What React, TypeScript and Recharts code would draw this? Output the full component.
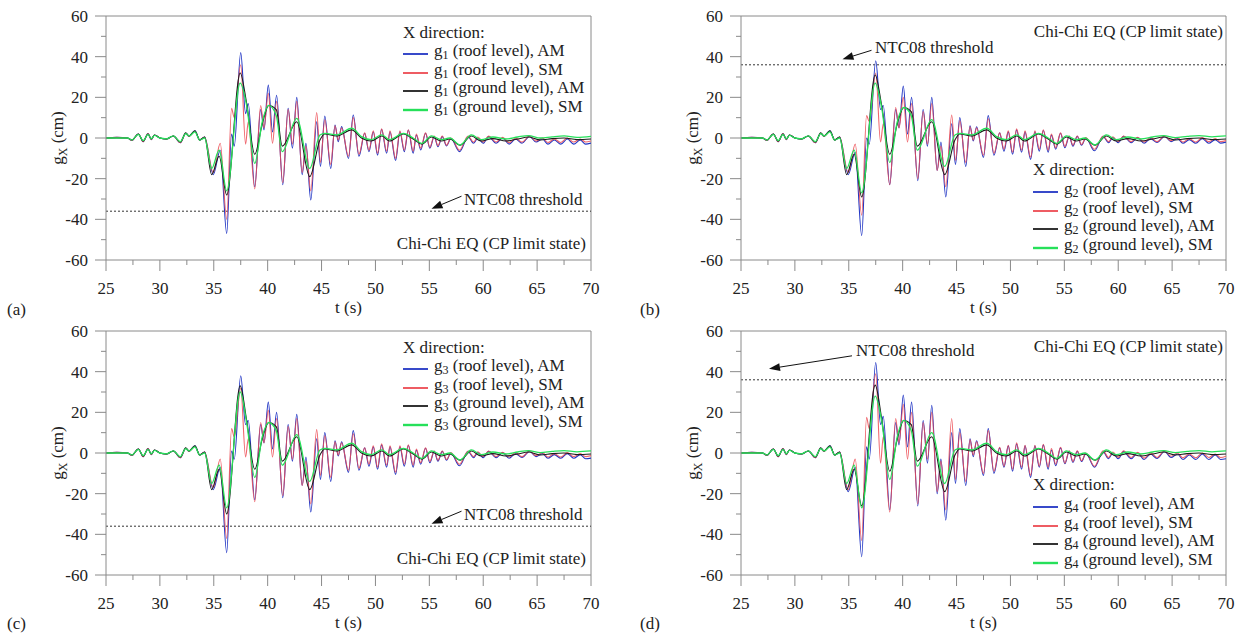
import React from "react";
import { LineChart, Line, XAxis, YAxis, ReferenceLine } from "recharts";

// time instants (s) of the picked extrema, roof-level and ground-level records
const T_ROOF = [
  25, 26, 27, 27.4, 28, 28.45, 28.9, 29.2, 29.5, 30,
  30.6, 31.25, 31.9, 32.4, 32.7, 33.25, 33.7, 34.15, 34.95, 35.6,
  36.2, 36.65, 36.9, 37.5, 37.95, 38.2, 38.8, 39.35, 39.66, 40.06,
  40.45, 40.83, 41.4, 41.9, 42.3, 42.7, 43.2, 43.55, 44.0, 44.55,
  44.9, 45.3, 45.85, 46.25, 46.55, 46.86, 47.5, 47.94, 48.47, 49.0,
  49.4, 49.8, 50.2, 50.57, 51.04, 51.35, 51.87, 52.27, 52.68, 53.05,
  53.5, 53.8, 54.2, 54.65, 55.05, 55.45, 55.8, 56.2, 56.6, 57.0,
  57.8, 58.6, 59.1, 59.5, 60.0, 60.5, 61.2, 61.8, 62.4, 63.0,
  63.6, 64.3, 64.9, 65.5, 66.0, 66.6, 67.2, 67.8, 68.4, 69.0,
  69.5, 70,
];

const T_GROUND = [
  25, 27, 27.4, 28, 28.45, 28.9, 29.2, 29.5, 30, 30.6,
  31.25, 31.9, 32.4, 32.7, 33.25, 33.7, 34.15, 34.8, 35.5, 36.2,
  37.45, 38.05, 38.8, 39.5, 40.1, 40.8, 41.35, 42.7, 43.9, 44.85,
  45.3, 46.4, 47.8, 48.7, 49.6, 50.6, 51.3, 52.6, 53.5, 54.3,
  55.2, 56.1, 56.9, 57.85, 58.9, 59.8, 60.9, 62.1, 63.2, 64.2,
  65.3, 66.4, 67.5, 68.7, 70,
];

// panel (a) g1
const ROOF_AM_1 = [
  0, 0.3, 0, -1.2, 2.0, -1.8, 2.2, -0.8, 1.5, 0,
  -0.5, 1.0, -2.3, 2.3, 0.8, 3.6, -1.0, 0.5, -18, -6,
  -47, 2, -4, 42, 12, 17, -24, 14, 4, 26,
  3, 21, -23, 14.6, -5, 20, -18, -2.6, -30.5, 8,
  -14, 10.8, -15, 6.4, -1.8, 5.6, -10, 11.3, -9, 2.3,
  -6.7, 3.1, -8.4, 4.3, -7.5, 3.1, -11.1, 3.1, -6.7, 3.9,
  -7.5, 1.5, -5.9, 2.3, -5, 0.7, -4.3, 0.7, -3.9, -0.2,
  -6.7, 0.6, -2.6, 0, -2.6, 0.7, -2.6, 0, -3, -0.5,
  -2.5, 0.8, -2, -0.5, -3, -1, -3, -0.5, -3, -1,
  -3, -2.5,
];
const ROOF_SM_1 = [
  0, 0.3, 0, -1.2, 2.0, -1.8, 2.2, -0.8, 1.5, 0,
  -0.5, 1.0, -2.3, 2.3, 0.8, 3.3, -1.0, 0.5, -17, -2.6,
  -40, 14.6, 10, 36, -3, 8, -25, 16, 5, 22,
  -2.6, 18, -22, 14, -3, 18, -17, -4, -26, 12.5,
  -12, 9, -13, 6, -1, 5, -9, 10, -8, 2.5,
  -6, 3.5, -7.5, 4.5, -6.5, 3.5, -10, 3.5, -6, 4,
  -6.5, 2, -5, 2.5, -4.5, 1, -3.8, 1, -3.5, 0,
  -6, 1, -2, 0.5, -2, 1, -2, 0.3, -2.3, 0,
  -2, 1, -1.5, 0, -2.2, -0.5, -2.2, 0, -2, -0.5,
  -2, -1.5,
];
const GROUND_AM_1 = [
  0, 0, -1, 2, -1.5, 2, -0.5, 1.5, 0, -0.5,
  1, -2, 2.5, 1, 3.5, -1, 0.5, -18, -9, -28,
  32, 17, -8, 7, 16, 14, -4, 8, -19, -1,
  2, 1, 4, 0, -1.5, 1, -1.5, 2, -0.5, -3,
  0.5, -1.5, -0.5, -3.5, 1, -1.5, -0.3, -1.5, -0.5, 0.5,
  -1, -0.3, 0, -0.8, -0.5,
];
const GROUND_SM_1 = [
  0, 0, -1, 1.8, -1.3, 1.8, -0.4, 1.3, 0, -0.4,
  1, -1.8, 2.2, 1, 3, -1, 0, -15, -6, -26,
  27, 16, -12.5, 8, 16, 11, -6.7, 9.7, -15, 1.5,
  2.3, 1.5, 4.8, 0.7, -0.8, 1.5, -0.8, 2.3, 0, -2.6,
  1, -0.8, 0, -3.4, 1.5, -0.8, 0.5, -0.5, 0.5, 1.2,
  0, 0.6, 1, 0.3, 0.8,
];

// panel (b) g2
const ROOF_AM_2 = [
  0, 0.3, 0, -1.2, 2.0, -1.8, 2.2, -0.8, 1.5, 0,
  -0.5, 1.0, -2.3, 2.3, 0.8, 3.6, -1.0, 0.5, -18, -7,
  -48, 0, -3, 38, 14, 16, -23, 14, 5, 25.6,
  2, 20, -21, 14, -4, 20, -16, -2, -29, 7,
  -13, 10, -14, 6, -1.5, 5.5, -9.5, 11, -8.5, 2.5,
  -6.5, 3, -8, 4, -7, 3, -10.5, 3, -6.5, 3.8,
  -7, 1.5, -5.5, 2.3, -4.8, 0.8, -4, 0.8, -3.6, 0,
  -6.3, 0.8, -2.3, 0.2, -2.3, 0.8, -2.3, 0.2, -2.6, -0.3,
  -2.2, 0.8, -1.8, -0.3, -2.6, -0.8, -2.6, -0.3, -2.6, -0.8,
  -2.5, -2,
];
const ROOF_SM_2 = [
  0, 0.3, 0, -1.2, 2.0, -1.8, 2.2, -0.8, 1.5, 0,
  -0.5, 1.0, -2.3, 2.3, 0.8, 3.3, -1.0, 0.5, -17, -3,
  -38, 11, 8, 32, -2, 7, -23, 15, 5, 20,
  -2, 17, -20, 13, -3, 17, -16, -4, -24, 11.3,
  -11, 8.5, -12, 5.5, -1, 5, -8.5, 9.5, -7.5, 2.5,
  -5.5, 3.5, -7, 4.5, -6, 3.5, -9.5, 3.5, -5.5, 4,
  -6, 2, -4.8, 2.5, -4.2, 1, -3.5, 1, -3.2, 0.2,
  -5.5, 1, -1.8, 0.6, -1.8, 1, -1.8, 0.4, -2, 0.2,
  -1.8, 1, -1.3, 0.2, -2, -0.3, -2, 0.2, -1.8, -0.3,
  -1.8, -1.3,
];
const GROUND_AM_2 = [
  0, 0, -1, 2, -1.5, 2, -0.5, 1.5, 0, -0.5,
  1, -2, 2.5, 1, 3.5, -1, 0.5, -18, -8, -29,
  31, 16, -8, 7, 15, 13, -4, 8, -18, -1,
  2, 1, 4, 0, -1.5, 1, -1.5, 2, -0.5, -3,
  0.5, -1.5, -0.5, -3.5, 1, -1.5, -0.3, -1.5, -0.5, 0.5,
  -1, -0.3, 0, -0.8, -0.5,
];
const GROUND_SM_2 = [
  0, 0, -1, 1.8, -1.3, 1.8, -0.4, 1.3, 0, -0.4,
  1, -1.8, 2.2, 1, 3, -1, 0, -15, -6, -27,
  27, 15, -12, 8, 15, 11, -6, 9, -14, 1.5,
  2.3, 1.5, 4.8, 0.7, -0.8, 1.5, -0.8, 2.3, 0, -2.6,
  1, -0.8, 0, -3.4, 1.5, -0.8, 0.5, -0.5, 0.5, 1.2,
  0.2, 0.8, 1.2, 0.6, 1,
];

// panel (c) g3
const ROOF_AM_3 = [
  0, 0.3, 0, -1.2, 2.0, -1.8, 2.2, -0.8, 1.5, 0,
  -0.5, 1.0, -2.3, 2.3, 0.8, 3.6, -1.0, 0.5, -18, -7,
  -49, 1, -3, 38, 14, 16, -23, 14, 5, 25,
  2, 20, -22, 14, -4, 19, -16, -2, -29, 7,
  -13, 10, -14, 6, -1.5, 5.5, -9.5, 11, -8.5, 2.5,
  -6.5, 3, -8, 4, -7, 3, -10.5, 3, -6.5, 3.8,
  -7, 1.5, -5.5, 2.3, -4.8, 0.8, -4, 0.8, -3.6, 0,
  -6.3, 0.8, -2.3, 0.2, -2.3, 0.8, -2.3, 0.2, -2.6, -0.3,
  -2.2, 0.8, -1.8, -0.3, -2.6, -0.8, -2.6, -0.3, -2.6, -0.8,
  -2.8, -2.5,
];
const ROOF_SM_3 = [
  0, 0.3, 0, -1.2, 2.0, -1.8, 2.2, -0.8, 1.5, 0,
  -0.5, 1.0, -2.3, 2.3, 0.8, 3.3, -1.0, 0.5, -17, -3,
  -42, 12, 8, 32, -2, 7, -24, 15, 5, 21,
  -2, 17, -21, 13, -3, 17, -16, -4, -25, 11.5,
  -11, 8.5, -12, 5.5, -1, 5, -8.5, 9.5, -7.5, 2.5,
  -5.5, 3.5, -7, 4.5, -6, 3.5, -9.5, 3.5, -5.5, 4,
  -6, 2, -4.8, 2.5, -4.2, 1, -3.5, 1, -3.2, 0.2,
  -5.5, 1, -1.8, 0.6, -1.8, 1, -1.8, 0.4, -2, 0.2,
  -1.8, 1, -1.3, 0.2, -2, -0.3, -2, 0.2, -1.8, -0.3,
  -1.8, -1.3,
];
const GROUND_AM_3 = [
  0, 0, -1, 2, -1.5, 2, -0.5, 1.5, 0, -0.5,
  1, -2, 2.5, 1, 3.5, -1, 0.5, -18, -8, -30,
  33, 16, -8, 7, 15, 13, -4, 8, -18, -1,
  2, 1, 4, 0, -1.5, 1, -1.5, 2, -0.5, -3,
  0.5, -1.5, -0.5, -3.5, 1, -1.5, -0.3, -1.5, -0.5, 0.5,
  -1, -0.3, 0, -0.8, -0.5,
];
const GROUND_SM_3 = [
  0, 0, -1, 1.8, -1.3, 1.8, -0.4, 1.3, 0, -0.4,
  1, -1.8, 2.2, 1, 3, -1, 0, -15, -6, -27,
  30, 15, -12, 8, 15, 11, -6, 9, -14, 1.5,
  2.3, 1.5, 4.8, 0.7, -0.8, 1.5, -0.8, 2.3, 0, -2.6,
  1, -0.8, 0, -3.4, 1.5, -0.8, 0.5, -0.5, 0.5, 1.2,
  0.2, 0.8, 1.2, 0.6, 1,
];

// panel (d) g4
const ROOF_AM_4 = [
  0, 0.3, 0, -1.2, 2.0, -1.8, 2.2, -0.8, 1.5, 0,
  -0.5, 1.0, -2.3, 2.3, 0.8, 3.6, -1.0, 0.5, -19, -7,
  -51, 3, -3, 44.5, 14, 18, -28, 15, 4, 28.5,
  3, 25, -26, 16, -5, 23.5, -20, -3, -33, 10,
  -15, 12, -16, 7, -1.8, 6, -11, 12, -10, 2.5,
  -7, 3.5, -9, 4.5, -8, 3.5, -12, 3.5, -7, 4,
  -8, 1.5, -6.3, 2.5, -5.3, 0.8, -4.6, 0.8, -4.2, -0.2,
  -7, 0.6, -2.8, 0, -2.8, 0.7, -2.8, 0, -3.2, -0.5,
  -2.7, 0.8, -2.2, -0.5, -3.2, -1, -3.2, -0.5, -3.2, -1,
  -3.2, -2.8,
];
const ROOF_SM_4 = [
  0, 0.3, 0, -1.2, 2.0, -1.8, 2.2, -0.8, 1.5, 0,
  -0.5, 1.0, -2.3, 2.3, 0.8, 3.3, -1.0, 0.5, -18, -3,
  -43, 17.5, 12, 39, -5, 8, -29, 17, 5, 24,
  -3, 20, -25, 15, -3, 20, -19, -4, -28, 17,
  -13, 10, -14, 6.5, -1, 5.5, -10, 11, -9, 2.8,
  -6.5, 3.8, -8, 5, -7, 3.8, -11, 3.8, -6.5, 4.3,
  -7, 2.2, -5.5, 2.8, -5, 1.1, -4.2, 1.1, -3.8, 0,
  -6.5, 1.1, -2.2, 0.5, -2.2, 1.1, -2.2, 0.3, -2.5, 0,
  -2.2, 1.1, -1.6, 0, -2.4, -0.5, -2.4, 0, -2.2, -0.5,
  -2.2, -1.6,
];
const GROUND_AM_4 = [
  0, 0, -1, 2, -1.5, 2, -0.5, 1.5, 0, -0.5,
  1, -2, 2.5, 1, 3.5, -1, 0.5, -18, -8, -26,
  33.4, 17, -9, 7, 16, 14, -4, 8, -19, -1,
  2, 1, 4, 0, -1.5, 1, -1.5, 2, -0.5, -3,
  0.5, -1.5, -0.5, -3.5, 1, -1.5, -0.3, -1.5, -0.5, 0.5,
  -1, -0.3, 0, -0.8, -0.5,
];
const GROUND_SM_4 = [
  0, 0, -1, 1.8, -1.3, 1.8, -0.4, 1.3, 0, -0.4,
  1, -1.8, 2.2, 1, 3, -1, 0, -15, -6, -27,
  28, 16, -13, 8, 16, 11, -6.5, 10, -15, 1.5,
  2.3, 1.5, 4.8, 0.7, -0.8, 1.5, -0.8, 2.3, 0, -2.6,
  1, -0.8, 0, -3.4, 1.5, -0.8, 0.5, -0.5, 0.5, 1.2,
  0.2, 0.8, 1.2, 0.6, 1,
];

const X_TICKS = [25, 27.5, 30, 32.5, 35, 37.5, 40, 42.5, 45, 47.5, 50, 52.5, 55, 57.5, 60, 62.5, 65, 67.5, 70];
const Y_TICKS = [-60, -50, -40, -30, -20, -10, 0, 10, 20, 30, 40, 50, 60];
const SERIES_LABELS = ["(roof level), AM", "(roof level), SM", "(ground level), AM", "(ground level), SM"];
const COLORS = ["#2236c4", "#ec4a52", "#1c1c1c", "#26e05a"];
const THRESHOLD = 36;

const FONT = "'Liberation Serif', 'Times New Roman', serif";
const AXIS = "#8a8a8a";
const TXT = "#222";

const pts = (ts: number[], vs: number[]) => ts.map((t, i) => ({ t, v: vs[i] }));

const XTick = (p: any) => {
  const major = p.payload.value % 5 === 0;
  return (
    <g>
      <line x1={p.x} y1={p.y} x2={p.x} y2={p.y + (major ? 11 : 5)} stroke={AXIS} />
      {major && (
        <text x={p.x} y={p.y + 34} textAnchor="middle" fontSize={17} fontFamily={FONT} fill={TXT}>
          {p.payload.value}
        </text>
      )}
    </g>
  );
};

const YTick = (p: any) => {
  const major = p.payload.value % 20 === 0;
  return (
    <g>
      <line x1={p.x} y1={p.y} x2={p.x - (major ? 11 : 5)} y2={p.y} stroke={AXIS} />
      {major && (
        <text x={p.x - 18} y={p.y + 6} textAnchor="end" fontSize={17} fontFamily={FONT} fill={TXT}>
          {p.payload.value}
        </text>
      )}
    </g>
  );
};

const Arrow = ({ x1, y1, x2, y2 }: { x1: number; y1: number; x2: number; y2: number }) => {
  const a = Math.atan2(y2 - y1, x2 - x1);
  const L = 11;
  const W = 4;
  const bx = x2 - L * Math.cos(a);
  const by = y2 - L * Math.sin(a);
  const nx = -Math.sin(a) * W;
  const ny = Math.cos(a) * W;
  return (
    <g>
      <line x1={x1} y1={y1} x2={bx} y2={by} stroke="#111" strokeWidth={1} />
      <polygon points={`${x2},${y2} ${bx + nx},${by + ny} ${bx - nx},${by - ny}`} fill="#111" />
    </g>
  );
};

type PanelCfg = {
  letter: string;
  sub: string;
  left: number;
  top: number;
  width: number;
  height: number;
  margin: { top: number; right: number; bottom: number; left: number };
  roofAM: number[];
  roofSM: number[];
  groundAM: number[];
  groundSM: number[];
  thresh: number;
  note: { tx: number; ty: number; ax1: number; ay1: number; ax2: number; ay2: number };
  legend: { dx: number; dy: number };
  chichi: { right: number; dy: number };
};

const Panel = ({ cfg }: { cfg: PanelCfg }) => {
  const plotLeft = cfg.margin.left + 60;
  const plotTop = cfg.margin.top;
  const plotRight = cfg.width - cfg.margin.right;
  const series = [
    pts(T_ROOF, cfg.roofAM),
    pts(T_ROOF, cfg.roofSM),
    pts(T_GROUND, cfg.groundAM),
    pts(T_GROUND, cfg.groundSM),
  ];
  const n = cfg.note;
  return (
    <div style={{ position: "absolute", left: cfg.left, top: cfg.top, width: cfg.width, height: cfg.height }}>
      <LineChart width={cfg.width} height={cfg.height} margin={cfg.margin}>
        <XAxis
          dataKey="t"
          type="number"
          domain={[25, 70]}
          ticks={X_TICKS}
          interval={0}
          allowDataOverflow
          tickSize={0}
          tickMargin={0}
          tickLine={false}
          axisLine={{ stroke: AXIS }}
          height={30}
          tick={(p: any) => <XTick {...p} />}
          label={(p: any) => (
            <text
              x={p.viewBox.x + p.viewBox.width / 2}
              y={p.viewBox.y + 53}
              textAnchor="middle"
              fontSize={17}
              fontFamily={FONT}
              fill={TXT}
            >
              t (s)
            </text>
          )}
        />
        <YAxis
          type="number"
          domain={[-60, 60]}
          ticks={Y_TICKS}
          interval={0}
          allowDataOverflow
          tickSize={0}
          tickMargin={0}
          tickLine={false}
          axisLine={{ stroke: AXIS }}
          width={60}
          tick={(p: any) => <YTick {...p} />}
          label={(p: any) => {
            const cx = p.viewBox.x + 17;
            const cy = p.viewBox.y + p.viewBox.height / 2;
            return (
              <text
                x={cx}
                y={cy}
                transform={`rotate(-90 ${cx} ${cy})`}
                textAnchor="middle"
                fontSize={17}
                fontFamily={FONT}
                fill={TXT}
              >
                <tspan>g</tspan>
                <tspan dy={4} fontSize={12}>X</tspan>
                <tspan dy={-4}> (cm)</tspan>
              </text>
            );
          }}
        />
        <ReferenceLine y={60} stroke={AXIS} />
        <ReferenceLine x={70} stroke={AXIS} />
        <ReferenceLine
          y={cfg.thresh}
          stroke="#333"
          strokeDasharray="2 2"
          label={(p: any) => {
            const x = p.viewBox.x;
            const y = p.viewBox.y;
            return (
              <g>
                <text x={x + n.tx} y={y + n.ty} fontSize={17} fontFamily={FONT} fill={TXT}>
                  NTC08 threshold
                </text>
                <Arrow x1={x + n.ax1} y1={y + n.ay1} x2={x + n.ax2} y2={y + n.ay2} />
              </g>
            );
          }}
        />
        {series.map((d, i) => (
          <Line
            key={i}
            data={d}
            dataKey="v"
            type="monotone"
            dot={false}
            stroke={COLORS[i]}
            strokeWidth={i === 3 ? 1.3 : 1.1}
            strokeOpacity={i === 1 ? 0.85 : 1}
            isAnimationActive={false}
          />
        ))}
      </LineChart>

      <div
        style={{
          position: "absolute",
          left: plotLeft + cfg.legend.dx,
          top: plotTop + cfg.legend.dy,
          fontFamily: FONT,
          fontSize: 17,
          lineHeight: "18.6px",
          color: TXT,
          whiteSpace: "nowrap",
        }}
      >
        <div>X direction:</div>
        {SERIES_LABELS.map((lab, i) => (
          <div key={lab} style={{ display: "flex", alignItems: "flex-start", height: 18.6 }}>
            <svg width={31} height={18} style={{ display: "block" }}>
              <line x1={0} y1={12} x2={25} y2={12} stroke={COLORS[i]} strokeWidth={i === 3 ? 2.4 : 1.8} />
            </svg>
            <span>
              g<sub style={{ fontSize: 12, verticalAlign: "-3px", lineHeight: 0 }}>{cfg.sub}</sub> {lab}
            </span>
          </div>
        ))}
      </div>

      <div
        style={{
          position: "absolute",
          right: cfg.width - plotRight + cfg.chichi.right,
          top: plotTop + cfg.chichi.dy,
          fontFamily: FONT,
          fontSize: 17,
          lineHeight: "17px",
          color: TXT,
          whiteSpace: "nowrap",
        }}
      >
        Chi-Chi EQ (CP limit state)
      </div>
    </div>
  );
};

const noteLow = { tx: 358, ty: -6, ax1: 355.5, ay1: -15, ax2: 325.5, ay2: -2.5 };

const PANELS: PanelCfg[] = [
  {
    letter: "(a)", sub: "1", left: 0, top: 0, width: 620, height: 316,
    margin: { top: 16, right: 29, bottom: 26, left: 46 },
    roofAM: ROOF_AM_1, roofSM: ROOF_SM_1, groundAM: GROUND_AM_1, groundSM: GROUND_SM_1,
    thresh: -THRESHOLD, note: noteLow, legend: { dx: 297, dy: 7.6 }, chichi: { right: 5, dy: 219 },
  },
  {
    letter: "(b)", sub: "2", left: 620, top: 0, width: 627, height: 316,
    margin: { top: 16, right: 21, bottom: 26, left: 61 },
    roofAM: ROOF_AM_2, roofSM: ROOF_SM_2, groundAM: GROUND_AM_2, groundSM: GROUND_SM_2,
    thresh: THRESHOLD, note: { tx: 134, ty: -12, ax1: 130.5, ay1: -14.5, ax2: 101.5, ay2: -5.5 },
    legend: { dx: 292, dy: 145.4 }, chichi: { right: 3, dy: 6.6 },
  },
  {
    letter: "(c)", sub: "3", left: 0, top: 316, width: 620, height: 317,
    margin: { top: 15, right: 29, bottom: 28, left: 46 },
    roofAM: ROOF_AM_3, roofSM: ROOF_SM_3, groundAM: GROUND_AM_3, groundSM: GROUND_SM_3,
    thresh: -THRESHOLD, note: noteLow, legend: { dx: 297, dy: 7.6 }, chichi: { right: 5, dy: 219 },
  },
  {
    letter: "(d)", sub: "4", left: 620, top: 316, width: 627, height: 317,
    margin: { top: 15, right: 21, bottom: 28, left: 61 },
    roofAM: ROOF_AM_4, roofSM: ROOF_SM_4, groundAM: GROUND_AM_4, groundSM: GROUND_SM_4,
    thresh: THRESHOLD, note: { tx: 115, ty: -24, ax1: 111, ay1: -24, ax2: 28, ay2: -11 },
    legend: { dx: 292, dy: 145.4 }, chichi: { right: 3, dy: 6.6 },
  },
];

export default function App() {
  return (
    <div style={{ position: "absolute", left: 0, top: 0, width: 1247, height: 633, background: "#fff" }}>
      {PANELS.map((p) => (
        <Panel key={p.letter} cfg={p} />
      ))}
      {PANELS.map((p) => (
        <div
          key={p.letter + "-lab"}
          style={{
            position: "absolute",
            left: p.left === 0 ? 7 : 640,
            top: p.top === 0 ? 300.6 : 615,
            fontFamily: FONT,
            fontSize: 17,
            lineHeight: "17px",
            color: TXT,
          }}
        >
          {p.letter}
        </div>
      ))}
    </div>
  );
}
